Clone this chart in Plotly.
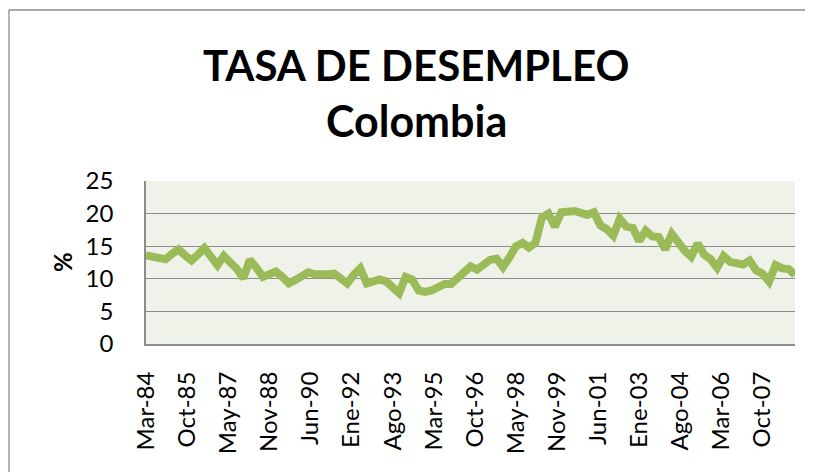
import pandas as pd
import plotly.graph_objects as go

# Quarterly unemployment rate (%), Colombia, Mar-1984 .. Mar-2009
start_date = "1984-03-01"
n_periods = 101
unemployment = [
    13.6, 13.4, 13.2, 13.0, 13.8, 14.5, 13.6, 12.8, 13.7, 14.7,
    13.4, 12.1, 13.5, 12.6, 11.5, 10.1, 12.9, 11.7, 10.3, 10.7,
    11.1, 10.3, 9.3, 9.8, 10.4, 11.0, 10.7, 10.6, 10.7, 10.8,
    10.0, 9.3, 10.6, 11.6, 9.3, 9.7, 9.9, 9.6, 8.7, 7.8,
    10.3, 9.9, 8.2, 8.0, 8.2, 8.6, 9.2, 9.2, 10.1, 11.0,
    11.9, 11.4, 12.1, 12.9, 13.1, 11.8, 13.3, 15.0, 15.5, 14.8,
    15.5, 19.4, 20.0, 18.0, 20.2, 20.3, 20.4, 20.1, 19.8, 20.2,
    18.2, 17.6, 16.6, 19.2, 18.0, 17.8, 15.8, 17.4, 16.5, 16.4,
    14.5, 16.9, 15.4, 14.3, 13.4, 15.4, 13.7, 13.0, 11.7, 13.5,
    12.6, 12.3, 12.2, 12.8, 11.3, 10.8, 9.6, 12.1, 11.6, 11.5,
    10.6,
]
tick_labels = ["Mar-84", "Oct-85", "May-87", "Nov-88", "Jun-90", "Ene-92",
               "Ago-93", "Mar-95", "Oct-96", "May-98", "Nov-99", "Jun-01",
               "Ene-03", "Ago-04", "Mar-06", "Oct-07"]
label_step_months = 19
y_ticks = [0, 5, 10, 15, 20, 25]

dates = pd.date_range(start_date, periods=n_periods, freq="3MS")
tick_dates = pd.date_range(start_date, periods=len(tick_labels),
                           freq=f"{label_step_months}MS")

FONT = "Lato"
GRID = "#8C8C8C"

# page body has an 8px margin, so the figure is laid out 8px up/left
OFF = 8
W, H = 813 - OFF, 472 - OFF
PL, PR, PT, PB = 146 - OFF, 795 - OFF, 181 - OFF, 344 - OFF
PW, PH = PR - PL, PB - PT


def px(x):
    return (x - OFF - PL) / PW


def py(y):
    return (PB - (y - OFF)) / PH


border = dict(color="#8C8C8C", width=1.3)

fig = go.Figure()
fig.add_trace(go.Scatter(
    x=dates, y=unemployment, mode="lines",
    line=dict(color="#9BBB59", width=8),
    hoverinfo="x+y",
))

fig.update_layout(
    width=W, height=H,
    margin=dict(l=PL, r=W - PR, t=PT, b=H - PB),
    paper_bgcolor="white",
    plot_bgcolor="#EEF2E8",
    showlegend=False,
    font=dict(family=FONT, color="black"),
    xaxis=dict(
        type="date",
        range=[dates[0], dates[-1]],
        tickmode="array",
        tickvals=tick_dates,
        ticktext=tick_labels,
        tickangle=-90,
        tickfont=dict(size=24, family=FONT),
        showgrid=False,
        showline=True, linecolor=GRID, linewidth=2,
        ticks="", ticklabelstandoff=16,
        zeroline=False,
    ),
    yaxis=dict(
        range=[0, 25],
        tickmode="array",
        tickvals=y_ticks,
        tickfont=dict(size=24, family=FONT),
        showgrid=True, gridcolor=GRID, gridwidth=1.3,
        showline=True, linecolor=GRID, linewidth=1.5,
        ticks="", ticklabelstandoff=26,
        zeroline=False,
    ),
    annotations=[
        dict(text="<b>TASA DE DESEMPLEO</b>", xref="paper", yref="paper",
             x=px(416), y=py(65), xanchor="center",
             yanchor="middle", showarrow=False,
             font=dict(size=42, family=FONT)),
        dict(text="<b>Colombia</b>", xref="paper", yref="paper",
             x=px(416), y=py(121), xanchor="center",
             yanchor="middle", showarrow=False,
             font=dict(size=43, family=FONT)),
        dict(text="<b>%</b>", xref="paper", yref="paper",
             x=px(62), y=py(262), xanchor="center",
             yanchor="middle", showarrow=False, textangle=-90,
             font=dict(size=24, family=FONT)),
    ],
    shapes=[
        dict(type="line", xref="paper", yref="paper",
             x0=px(9), x1=px(808), y0=py(10), y1=py(10), line=border),
        dict(type="line", xref="paper", yref="paper",
             x0=px(9), x1=px(9), y0=py(10), y1=py(472), line=border),
        dict(type="line", xref="paper", yref="paper",
             x0=px(808), x1=px(808), y0=py(10), y1=py(472), line=border),
    ],
)

fig.write_html("out.html")
